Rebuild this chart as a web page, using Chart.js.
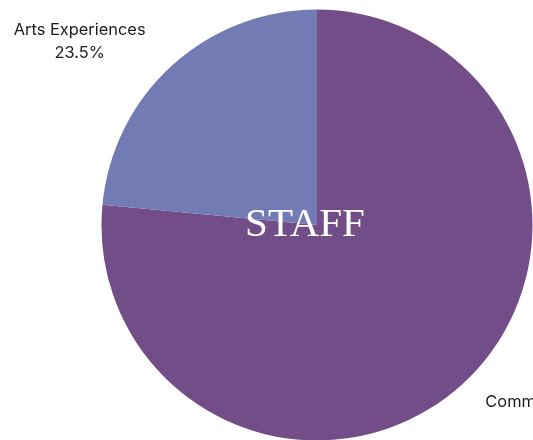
<!DOCTYPE html>
<html>
<head>
<meta charset="utf-8">
<script src="https://cdn.jsdelivr.net/npm/chart.js@4.4.0/dist/chart.umd.min.js"></script>
<style>
  html, body { margin: 0; padding: 0; background: #fff; }
  #wrap { width: 533px; height: 440px; overflow: hidden; position: relative; }
  #chart { position: absolute; left: 0; top: 0; }
</style>
</head>
<body>
<div id="wrap">
  <canvas id="chart" width="634" height="450"></canvas>
</div>
<script>
// staff time split
const categories = ['Community Programs', 'Arts Experiences'];
const shares = [76.5, 23.5];
const sliceColors = ['#734D87', '#737BB4'];
const centerTitle = 'STAFF';

// draws the category name + percent outside each slice, and the title in the middle
const pieLabels = {
    id: 'pieLabels',
    afterDatasetsDraw(chart) {
        const ctx = chart.ctx;
        const arcs = chart.getDatasetMeta(0).data;
        // small hand nudges so labels sit clear of the edge
        const nudge = [[15, 0], [0, 1]];
        ctx.save();
        ctx.fillStyle = '#1a1a1a';
        ctx.textAlign = 'center';
        ctx.textBaseline = 'alphabetic';
        ctx.font = '16.4px Inter';
        arcs.forEach((arc, i) => {
            const mid = (arc.startAngle + arc.endAngle) / 2 - 9.5 * Math.PI / 180;
            const dist = 302;
            const x = arc.x + Math.cos(mid) * dist + nudge[i][0];
            const y = arc.y + Math.sin(mid) * dist + nudge[i][1];
            ctx.fillText(categories[i], x, y - 4.5);
            ctx.fillText(shares[i].toFixed(1) + '%', x, y + 19);
        });
        const c = arcs[0];
        ctx.fillStyle = '#ffffff';
        ctx.font = '41px "Liberation Serif"';
        ctx.fillText(centerTitle, c.x - 12, c.y + 11);
        ctx.restore();
    }
};

new Chart(document.getElementById('chart'), {
    type: 'pie',
    data: {
        labels: categories,
        datasets: [{
            data: shares,
            backgroundColor: sliceColors,
            borderWidth: 0
        }]
    },
    options: {
        responsive: false,
        animation: false,
        radius: 215.5,
        layout: { padding: 0 },
        plugins: {
            legend: { display: false },
            tooltip: { enabled: false }
        }
    },
    plugins: [pieLabels]
});
</script>
</body>
</html>
